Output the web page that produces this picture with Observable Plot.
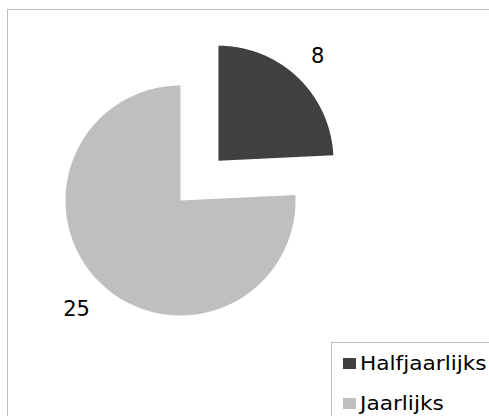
<!DOCTYPE html>
<html>
<head>
<meta charset="utf-8">
<script src="https://cdn.jsdelivr.net/npm/d3@7"></script>
<script src="https://cdn.jsdelivr.net/npm/@observablehq/plot@0.6"></script>
<style>
  html, body { margin: 0; padding: 0; background: #fff; }
  #wrap { position: relative; width: 489px; height: 416px; overflow: hidden; background: #fff; font-family: "DejaVu Sans", Verdana, sans-serif; }
  #frame { position: absolute; left: 7px; top: 9px; width: 700px; height: 700px; border: 1px solid #bdbdbd; box-sizing: border-box; }
  #chart { position: absolute; left: 0; top: 0; }
  #legend { position: absolute; left: 331px; top: 342px; width: 300px; height: 200px; border: 1px solid #bdbdbd; background: #fff; }
  .row { position: absolute; left: 0; width: 280px; height: 24px; line-height: 24px; font-size: 19px; color: #000; white-space: nowrap; }
  .sw { position: absolute; left: 11px; top: 7px; width: 13px; height: 11px; }
  .lab { position: absolute; left: 28px; top: 0; display: inline-block; transform: scaleX(1.14); transform-origin: 0 50%; }
</style>
</head>
<body>
<div id="wrap">
  <div id="frame"></div>
  <div id="chart"></div>
  <div id="legend"></div>
</div>
<script>
const categories = ["Halfjaarlijks", "Jaarlijks"];
const values = [8, 25];
const labels = ["8", "25"];
const colors = ["#404040", "#bfbfbf"];
const explode = [0.478, 0];
const labelRadius = [1.25, 1.31];

const slices = d3.pie().sort(null).value(d => d.value)(
  categories.map((c, i) => ({category: c, value: values[i]}))
);

const polys = [];
const labelData = [];
slices.forEach((a, i) => {
  const cat = categories[i];
  const mid = (a.startAngle + a.endAngle) / 2;
  const ox = explode[i] * Math.sin(mid), oy = explode[i] * Math.cos(mid);
  polys.push({category: cat, x: ox, y: oy});
  const n = 180;
  for (let k = 0; k <= n; k++) {
    const t = a.startAngle + (a.endAngle - a.startAngle) * k / n;
    polys.push({category: cat, x: ox + Math.sin(t), y: oy + Math.cos(t)});
  }
  const lr = labelRadius[i];
  labelData.push({text: labels[i], x: ox + lr * Math.sin(mid), y: oy + lr * Math.cos(mid)});
});

const W = 489, H = 416, cx = 180, cy = 200, R = 115;

const chart = Plot.plot({
  width: W, height: H, margin: 0,
  x: {domain: [-cx / R, (W - cx) / R], axis: null},
  y: {domain: [-(H - cy) / R, cy / R], axis: null},
  style: {background: "transparent", fontFamily: "DejaVu Sans, Verdana, sans-serif"},
  marks: [
    ...categories.map((c, i) => Plot.line(polys.filter(d => d.category === c), {
      x: "x", y: "y", fill: colors[i], stroke: "none", curve: "linear-closed"
    })),
    Plot.text(labelData, {x: "x", y: "y", text: "text", fontSize: 21, fill: "#000", textAnchor: "middle", lineAnchor: "middle"})
  ]
});
document.getElementById("chart").appendChild(chart);

const legend = document.getElementById("legend");
const rowTops = [8, 48];
categories.forEach((c, i) => {
  const row = document.createElement("div");
  row.className = "row";
  row.style.top = rowTops[i] + "px";
  const sw = document.createElement("span");
  sw.className = "sw";
  sw.style.background = colors[i];
  const lab = document.createElement("span");
  lab.className = "lab";
  lab.textContent = c;
  row.appendChild(sw);
  row.appendChild(lab);
  legend.appendChild(row);
});
</script>
</body>
</html>
